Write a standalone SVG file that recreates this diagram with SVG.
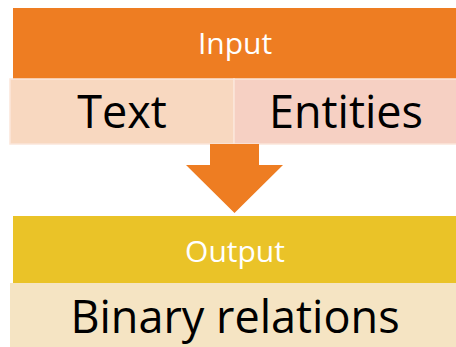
<svg xmlns="http://www.w3.org/2000/svg" width="456" height="347" viewBox="0 0 456 347">
  <style>
    .hdr { font-family: "Open Sans", "Noto Sans", sans-serif; font-size: 30px; fill: #ffffff; text-anchor: middle; }
    .cell { font-family: "Open Sans", "Noto Sans", sans-serif; font-size: 45px; fill: #000000; text-anchor: middle; }
    .edge { stroke: #fbe6da; stroke-width: 1.5; }
  </style>
  <rect width="456" height="347" fill="#ffffff"/>
  <g id="input">
    <rect x="13" y="8" width="443" height="71" fill="#ee7d22"/>
    <text class="hdr" x="235" y="54">Input</text>
  </g>
  <g id="text">
    <rect x="10" y="79" width="224" height="65" fill="#f8d8c0" class="edge"/>
    <text class="cell" x="122" y="128">Text</text>
  </g>
  <g id="entities">
    <rect x="234" y="79" width="223" height="65" fill="#f6d0c3" class="edge"/>
    <text class="cell" x="346" y="128">Entities</text>
  </g>
  <g id="connectors">
    <polygon points="210,144 259,144 259,165 283,165 234.5,213 186,165 210,165" fill="#ee7d22"/>
  </g>
  <g id="output">
    <rect x="13" y="216" width="443" height="67" fill="#eac328"/>
    <text class="hdr" x="235" y="262">Output</text>
  </g>
  <g id="binary-relations">
    <rect x="10" y="283" width="447" height="65" fill="#f5e4c3"/>
    <text class="cell" x="235" y="333">Binary relations</text>
  </g>
</svg>
